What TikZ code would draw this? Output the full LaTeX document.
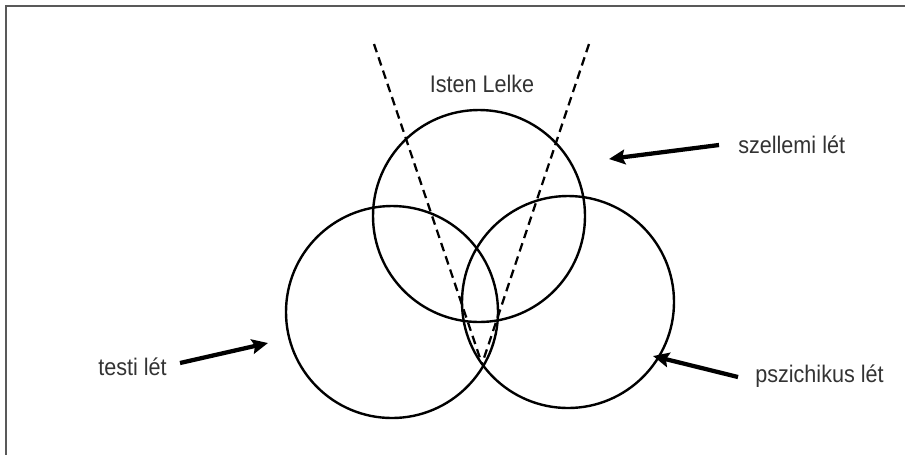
\documentclass[tikz,border=0pt]{standalone}
\usepackage{fontspec}
\setmainfont{Liberation Sans}[FakeStretch=0.9]
\usepackage{tikz}
\usetikzlibrary{arrows.meta,positioning}

\begin{document}
\begin{tikzpicture}[x=0.75pt, y=-0.75pt,
  ring/.style={draw, circle, minimum size=159pt, inner sep=0pt, line width=1.8pt},
  ray/.style={dashed, dash pattern=on 6.5pt off 4pt, line width=1.7pt},
  pointer/.style={-{Stealth[length=12pt, width=11pt, inset=2pt]}, line width=3.2pt},
  lab/.style={font=\fontsize{18}{21}\selectfont, text=black!80, inner sep=0pt}]
\useasboundingbox (0,0) rectangle (905,455);
% frame (top and left only)
\draw[line width=1.8pt, black!65] (905,6) -- (6,6) -- (6,455);
% the three circles
\node[ring] (spirit) at (479,216) {};
\node[ring] (body) at (392,312) {};
\node[ring] (soul) at (568,302) {};
% cone
\coordinate (apex) at (482,364);
\coordinate (coneL) at (374,44);
\coordinate (coneR) at (589,44);
\draw[ray] (coneL) -- (apex);
\draw[ray] (coneR) -- (apex);
% labels
\node[lab, anchor=base] (isten) at (482,92) {Isten Lelke};
\node[lab, anchor=base west] (szell) at (738,153) {szellemi lét};
\node[lab, anchor=base west] (testi) at (98,375) {testi lét};
\node[lab, anchor=base west] (pszi) at (755,382) {pszichikus lét};
% arrows
\coordinate (szellT) at (719,145);
\coordinate (szellH) at (609,159);
\coordinate (testiT) at (180,363);
\coordinate (testiH) at (268,343);
\coordinate (psziT) at (738,377);
\coordinate (psziH) at (653,356);
\draw[pointer] (szellT) -- (szellH);
\draw[pointer] (testiT) -- (testiH);
\draw[pointer] (psziT) -- (psziH);
\end{tikzpicture}
\end{document}
